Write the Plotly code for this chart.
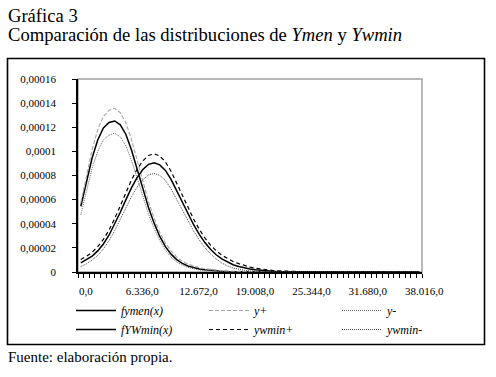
import plotly.graph_objects as go

# ---- data (values in units of 1e-6) ----
n_cat = 61
step = 633.6
x_cat = [round(i * step, 1) for i in range(n_cat)]

fymen = [54.5, 75.5, 94.5, 109.5, 119.5, 124.0, 125.2, 122.0, 114.0, 101.0,
         85.5, 69.0, 53.5, 40.5, 29.5, 21.0, 14.8, 10.3, 7.2, 5.0,
         3.5, 2.5, 1.8, 1.3, 0.9, 0.7, 0.5, 0.4, 0.3, 0.2,
         0.15, 0.12, 0.1, 0.08, 0.06, 0.05, 0.04, 0.03, 0.03, 0.02,
         0.02, 0.02, 0.01, 0.01, 0.01, 0.01, 0.01, 0.01, 0.0, 0.0,
         0.0, 0.0, 0.0, 0.0, 0.0, 0.0, 0.0, 0.0, 0.0, 0.0, 0.0]
y_plus = [57.5, 80.5, 101.5, 118.0, 129.0, 134.0, 135.7, 132.0, 123.5, 109.5,
          93.0, 75.5, 58.5, 44.5, 33.0, 24.0, 17.5, 12.5, 9.0, 6.5,
          4.8, 3.6, 2.7, 2.0, 1.5, 1.1, 0.8, 0.6, 0.5, 0.4,
          0.3, 0.25, 0.2, 0.15, 0.12, 0.1, 0.08, 0.06, 0.05, 0.04,
          0.03, 0.03, 0.02, 0.02, 0.02, 0.01, 0.01, 0.01, 0.01, 0.0,
          0.0, 0.0, 0.0, 0.0, 0.0, 0.0, 0.0, 0.0, 0.0, 0.0, 0.0]
y_minus = [47.5, 68.0, 86.0, 100.0, 109.5, 113.5, 115.0, 112.0, 104.5, 92.5,
           78.0, 62.5, 48.0, 36.0, 26.0, 18.0, 12.3, 8.3, 5.6, 3.8,
           2.5, 1.7, 1.1, 0.8, 0.5, 0.4, 0.3, 0.2, 0.15, 0.1,
           0.08, 0.06, 0.05, 0.04, 0.03, 0.02, 0.02, 0.01, 0.01, 0.01,
           0.0, 0.0, 0.0, 0.0, 0.0, 0.0, 0.0, 0.0, 0.0, 0.0,
           0.0, 0.0, 0.0, 0.0, 0.0, 0.0, 0.0, 0.0, 0.0, 0.0, 0.0]
fywmin = [7.5, 10.0, 13.2, 17.5, 23.2, 30.5, 39.5, 49.5, 60.0, 70.0,
          78.5, 85.0, 89.2, 90.5, 88.8, 84.2, 76.8, 67.5, 57.8, 48.2,
          39.2, 31.2, 24.4, 18.8, 14.3, 10.8, 8.1, 6.0, 4.5, 3.3,
          2.5, 1.8, 1.3, 1.0, 0.7, 0.5, 0.4, 0.3, 0.2, 0.2,
          0.1, 0.1, 0.08, 0.06, 0.05, 0.04, 0.03, 0.02, 0.02, 0.01,
          0.01, 0.01, 0.01, 0.0, 0.0, 0.0, 0.0, 0.0, 0.0, 0.0, 0.0]
ywmin_plus = [10.4, 13.0, 16.4, 21.0, 27.0, 34.7, 44.2, 54.7, 65.8, 76.4,
              85.3, 92.2, 96.6, 98.0, 96.2, 91.3, 83.5, 73.7, 63.5, 53.3,
              43.9, 35.4, 28.2, 22.3, 17.6, 13.9, 11.0, 8.7, 6.9, 5.3,
              4.1, 3.1, 2.3, 1.7, 1.3, 1.0, 0.7, 0.5, 0.4, 0.3,
              0.2, 0.15, 0.12, 0.1, 0.08, 0.06, 0.05, 0.04, 0.03, 0.02,
              0.02, 0.01, 0.01, 0.01, 0.01, 0.0, 0.0, 0.0, 0.0, 0.0, 0.0]
ywmin_minus = [4.5, 6.8, 9.8, 13.8, 19.1, 25.9, 34.2, 43.5, 53.3, 62.6,
               70.5, 76.5, 80.5, 81.7, 80.1, 75.8, 68.9, 60.3, 51.3, 42.3,
               34.0, 26.5, 20.2, 15.0, 10.8, 7.5, 5.0, 3.3, 2.2, 1.4,
               0.9, 0.6, 0.4, 0.3, 0.2, 0.15, 0.1, 0.08, 0.05, 0.04,
               0.03, 0.02, 0.02, 0.01, 0.01, 0.0, 0.0, 0.0, 0.0, 0.0,
               0.0, 0.0, 0.0, 0.0, 0.0, 0.0, 0.0, 0.0, 0.0, 0.0, 0.0]

x_tick_vals = [0.0, 6336.0, 12672.0, 19008.0, 25344.0, 31680.0, 38016.0]
x_tick_text = ["0,0", "6.336,0", "12.672,0", "19.008,0", "25.344,0", "31.680,0", "38.016,0"]
y_tick_vals = [0, 0.00002, 0.00004, 0.00006, 0.00008, 0.0001, 0.00012, 0.00014, 0.00016]
y_tick_text = ["0", "0,00002", "0,00004", "0,00006", "0,00008", "0,0001", "0,00012", "0,00014", "0,00016"]

series = [
    ("<i>fymen(x)</i>", fymen, dict(color="black", width=1.5, dash="solid")),
    ("<i>y+</i>", y_plus, dict(color="#a6a6a6", width=1.1, dash="4px,2px")),
    ("<i>y-</i>", y_minus, dict(color="#6a6a6a", width=1.0, dash="1px,1px")),
    ("<i>fYWmin(x)</i>", fywmin, dict(color="black", width=1.5, dash="solid")),
    ("<i>ywmin+</i>", ywmin_plus, dict(color="black", width=1.2, dash="4px,3px")),
    ("<i>ywmin-</i>", ywmin_minus, dict(color="#4a4a4a", width=1.0, dash="1px,1px")),
]

FONT = "Liberation Serif"

fig = go.Figure()
for name, vals, line in series:
    fig.add_trace(go.Scatter(
        x=x_cat, y=[v * 1e-6 for v in vals], mode="lines", name=name,
        line=line, hoverinfo="skip"))

W, H = 496, 377
PL, PR, PT, PB = 78, 422, 79, 272  # plot area in pixels


def fx(xp):
    return xp / W


def fy(yp):
    return 1 - yp / H


fig.update_layout(
    width=W, height=H,
    margin=dict(l=0, r=0, t=0, b=0, autoexpand=False),
    paper_bgcolor="white", plot_bgcolor="white",
    font=dict(family=FONT, size=11, color="black"),
    showlegend=True,
    legend=dict(orientation="h", x=fx(71), xanchor="left", y=fy(296), yanchor="top",
                font=dict(family=FONT, size=12, color="black"),
                entrywidth=78, entrywidthmode="pixels", itemwidth=40,
                tracegroupgap=0, bgcolor="rgba(0,0,0,0)"),
    xaxis=dict(domain=[fx(PL), fx(PR)],
               range=[-step / 2, x_cat[-1] + step / 2], showgrid=False, zeroline=False,
               showline=True, linecolor="black", linewidth=1.5,
               tickmode="array", tickvals=x_tick_vals, ticktext=x_tick_text,
               ticks="", ticklabelstandoff=8, ticklabelshift=5,
               tickfont=dict(family=FONT, size=11, color="black"),
               minor=dict(ticks="outside", ticklen=4, tickcolor="black", tickwidth=1,
                          tickmode="linear", tick0=-step / 2, dtick=step, showgrid=False)),
    yaxis=dict(domain=[fy(PB), fy(PT)],
               range=[0, 0.00016], showgrid=False, zeroline=False,
               showline=True, linecolor="black", linewidth=1.5,
               tickmode="array", tickvals=y_tick_vals, ticktext=y_tick_text,
               ticks="outside", ticklen=4, tickcolor="black", ticklabelstandoff=14,
               tickfont=dict(family=FONT, size=11, color="black")),
    shapes=[
        dict(type="rect", xref="x domain", yref="y domain", x0=0, x1=1, y0=0, y1=1,
             line=dict(color="#a0a0a0", width=1.5), layer="below"),
        dict(type="rect", xref="paper", yref="paper", x0=fx(7.5), x1=fx(484.5),
             y0=fy(344.5), y1=fy(58.5), line=dict(color="black", width=1.6),
             fillcolor="rgba(0,0,0,0)", layer="below"),
    ],
    annotations=[
        dict(text="Gráfica 3", xref="paper", yref="paper", x=fx(6), y=fy(3),
             xanchor="left", yanchor="top", showarrow=False,
             font=dict(family=FONT, size=18.6, color="black")),
        dict(text="Comparación de las distribuciones de <i>Ymen</i> y <i>Ywmin</i>",
             xref="paper", yref="paper", x=fx(6), y=fy(22), xanchor="left", yanchor="top",
             showarrow=False, font=dict(family=FONT, size=18.6, color="black")),
        dict(text="Fuente: elaboración propia.", xref="paper", yref="paper",
             x=fx(6), y=fy(347), xanchor="left", yanchor="top", showarrow=False,
             font=dict(family=FONT, size=15, color="black")),
    ],
)

fig.write_html("out.html", config={"displayModeBar": False, "responsive": False},
               post_script="document.body.style.margin='0';")
